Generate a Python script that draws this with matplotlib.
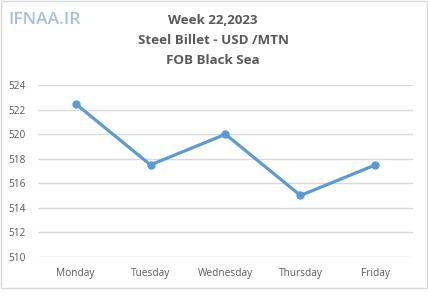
import matplotlib
matplotlib.use("Agg")
import matplotlib.pyplot as plt
from matplotlib.patches import Rectangle

days = ["Monday", "Tuesday", "Wednesday", "Thursday", "Friday"]
prices = [522.5, 517.5, 520.0, 515.0, 517.5]
yticks = [510, 512, 514, 516, 518, 520, 522, 524]
title_lines = ["Week 22,2023", "Steel Billet - USD /MTN", "FOB Black Sea"]

W, H = 428, 299
fig = plt.figure(figsize=(W / 100, H / 100), dpi=100)
plt.rcParams['font.family'] = ['Open Sans', 'DejaVu Sans']

# outer chart frame
fig.patches.append(Rectangle((1 / W, 1 - 288 / H), 425.5 / W, 287 / H, transform=fig.transFigure,
                             fill=False, edgecolor="#d9d9d9", linewidth=1.0))

ax = fig.add_axes([38 / W, 1 - 256.7 / H, 375 / W, (256.7 - 85.3) / H])
x = list(range(len(days)))
ax.plot(x, prices, color="#5B9BD5", linewidth=2.3, marker="o", markersize=5,
        solid_capstyle="round", zorder=3)
ax.set_xlim(-0.5, len(days) - 0.5)
ax.set_ylim(510, 524)
ax.set_yticks(yticks)
ax.set_xticks(x)
ax.set_xticklabels(days)
ax.grid(axis="y", color="#d9d9d9", linewidth=1.0)
ax.set_axisbelow(True)
for s in ax.spines.values():
    s.set_visible(False)
ax.tick_params(axis="both", length=0, colors="#595959", labelsize=7.3)
ax.tick_params(axis="y", pad=9)
ax.tick_params(axis="x", pad=8)

ys = [21, 41, 60]
for t, yy in zip(title_lines, ys):
    fig.text(213 / W, 1 - yy / H, t, ha="center", va="center", fontsize=9.6,
             fontweight="bold", color="#595959")

fig.text(8 / W, 1 - 19.5 / H, "IFNAA.IR", ha="left", va="center", fontsize=12.5,
         fontweight="semibold", color="#8fb0d6", alpha=0.8)

fig.savefig("out.png", dpi=100)
